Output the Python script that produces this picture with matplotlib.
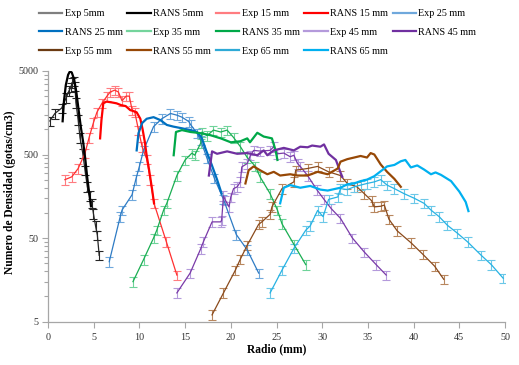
import matplotlib
matplotlib.use("Agg")
import matplotlib.pyplot as plt
from matplotlib.lines import Line2D
from matplotlib.ticker import FixedLocator, NullFormatter, FixedFormatter
import numpy as np

plt.rcParams['font.family'] = ['Liberation Serif', 'DejaVu Serif']

# ---------------- data ----------------
exp5_x = [0.2, 0.75, 1.5, 2.0, 2.3, 2.5, 2.65, 2.8, 2.95, 3.05, 3.3, 3.5, 3.8, 4.05, 4.3, 4.55, 4.8, 4.97, 5.2, 5.4, 5.6]
exp5_y = [1260, 1550, 1800, 2400, 2900, 3200, 3600, 3800, 3300, 2100, 1300, 800, 520, 324, 205, 160, 130, 98, 70, 54, 31]
rans5_x = [1.6, 1.75, 1.95, 2.2, 2.4, 2.6, 2.85, 3.1, 3.35, 3.6, 3.85, 4.1, 4.3, 4.5, 4.7]
rans5_y = [1250, 2200, 3400, 4500, 4950, 4800, 4000, 2800, 1700, 1050, 700, 420, 260, 175, 120]

exp15_x = [1.85, 2.6, 3.3, 4.05, 4.5, 4.97, 5.35, 5.9, 6.45, 6.8, 7.3, 7.7, 8.1, 8.55, 8.9, 9.2, 9.5, 9.9, 10.3, 10.8, 11.2, 11.6, 12.95, 14.1]
exp15_y = [250, 270, 340, 520, 800, 1200, 1600, 2050, 2500, 2800, 2950, 2800, 2200, 2500, 2500, 1700, 1600, 980, 620, 440, 250, 130, 45, 18]
rans15_x = [5.7, 5.85, 6.05, 6.4, 7.0, 7.5, 8.0, 8.5, 9.0, 9.4, 9.7, 10.1, 10.35, 10.6, 10.8, 11.0, 11.2, 11.4, 11.6]
rans15_y = [780, 1300, 2050, 2150, 2100, 2050, 1950, 1900, 1700, 1650, 1600, 1340, 1000, 700, 480, 360, 260, 187, 130]

exp25_x = [6.7, 7.9, 8.1, 9.2, 9.6, 10.0, 10.45, 11.55, 12.45, 13.4, 14.1, 14.65, 15.4, 15.6, 16.3, 16.7, 17.4, 18.2, 19.2, 20.6, 21.8, 23.05]
exp25_y = [26, 90, 108, 165, 250, 360, 560, 1080, 1340, 1550, 1480, 1400, 1240, 1140, 900, 740, 450, 260, 145, 55, 36, 19]
rans25_x = [9.7, 9.9, 10.3, 10.8, 11.55, 12.3, 13.0, 13.7, 14.65, 15.6, 16.3, 16.8, 17.3, 17.9, 18.5, 19.0]
rans25_y = [560, 900, 1190, 1340, 1400, 1290, 1130, 1080, 1030, 980, 930, 800, 560, 380, 250, 170]

exp35_x = [9.3, 10.45, 11.55, 11.9, 12.65, 13.0, 14.1, 15.0, 15.75, 16.05, 16.7, 16.85, 17.4, 18.1, 18.9, 19.6, 20.3, 21.05, 21.8, 22.7, 23.2, 24.3, 25.1, 25.6, 26.9, 28.2]
exp35_y = [15, 27.5, 50, 62, 108, 130, 280, 430, 520, 490, 680, 930, 840, 980, 930, 980, 800, 620, 460, 360, 270, 170, 108, 74, 42, 24]
rans35_x = [13.75, 14.0, 14.65, 15.6, 16.7, 17.8, 18.9, 20.0, 21.05, 21.8, 22.1, 22.9, 23.6, 24.5, 24.9, 25.1]
rans35_y = [490, 930, 980, 930, 900, 850, 780, 700, 720, 780, 700, 910, 820, 780, 560, 430]

exp45_x = [14.1, 15.55, 16.7, 17.0, 17.95, 18.9, 19.0, 19.2, 19.4, 19.8, 20.0, 20.3, 20.7, 21.05, 21.2, 21.8, 22.15, 22.5, 23.2, 24.3, 24.7, 25.1, 25.8, 26.5, 26.9, 27.3, 27.6, 28.4, 29.4, 30.2, 31.0, 32.0, 33.3, 34.6, 35.9, 37.0]
exp45_y = [11, 19, 37, 45, 78, 78, 82, 160, 142, 118, 155, 195, 205, 235, 355, 390, 490, 560, 550, 560, 620, 510, 520, 470, 490, 390, 360, 280, 190, 145, 112, 86, 50, 34, 24, 18]
rans45_x = [17.6, 17.95, 18.5, 19.6, 20.7, 21.8, 22.9, 23.6, 24.0, 24.7, 25.8, 26.9, 27.6, 28.4, 28.9, 29.8, 30.2, 30.7, 31.5, 32.0, 32.2]
rans45_y = [280, 545, 510, 545, 510, 520, 490, 560, 490, 560, 600, 560, 620, 610, 640, 620, 660, 510, 430, 305, 270]

exp55_x = [17.95, 19.2, 20.5, 21.05, 21.8, 23.05, 23.4, 24.3, 24.5, 25.6, 26.9, 27.1, 28.4, 29.5, 30.7, 32.0, 32.75, 33.8, 34.6, 35.4, 35.7, 36.4, 36.8, 37.3, 38.2, 39.7, 41.0, 42.3, 43.3]
exp55_y = [6.0, 11, 20.6, 28, 41, 73, 78, 96, 118, 195, 235, 324, 340, 360, 310, 280, 225, 205, 170, 140, 118, 120, 124, 84, 61, 44, 32, 23, 16]
rans55_x = [21.6, 21.95, 22.5, 23.2, 24.0, 24.7, 25.4, 26.5, 27.3, 28.4, 29.5, 30.6, 31.7, 32.0, 32.75, 33.5, 34.2, 34.9, 35.3, 35.7, 36.0, 36.4, 37.1, 37.9, 38.6]
rans55_y = [225, 324, 360, 324, 290, 310, 280, 290, 280, 280, 310, 290, 340, 410, 440, 460, 480, 460, 520, 500, 445, 380, 310, 255, 205]

exp65_x = [24.3, 25.6, 26.9, 28.2, 28.7, 29.5, 30.1, 30.7, 31.7, 32.0, 32.75, 33.5, 34.2, 34.9, 35.7, 36.4, 37.1, 37.9, 38.95, 40.05, 41.15, 41.9, 42.8, 43.7, 44.8, 45.9, 47.4, 48.5, 49.8]
exp65_y = [11, 20.6, 37.5, 62, 70, 107, 90, 145, 155, 195, 190, 205, 215, 225, 235, 250, 215, 195, 170, 150, 130, 108, 90, 71, 57, 45, 31, 24, 16.5]
rans65_x = [25.4, 25.8, 26.5, 27.6, 28.7, 29.8, 30.6, 32.0, 32.75, 33.5, 34.2, 34.9, 35.7, 36.4, 37.1, 37.9, 38.6, 39.1, 39.7, 40.4, 41.15, 41.9, 42.4, 43.0, 44.1, 45.0, 45.7, 46.0]
rans65_y = [130, 200, 215, 200, 210, 190, 185, 200, 220, 225, 240, 250, 275, 315, 360, 375, 415, 430, 350, 370, 330, 290, 305, 285, 240, 180, 135, 105]

exp_rel_err = 0.13  # approximate relative size of experimental error bars

labels = ["Exp 5mm", "RANS 5mm", "Exp 15 mm", "RANS 15 mm", "Exp 25 mm",
          "RANS 25 mm", "Exp 35 mm", "RANS 35 mm", "Exp 45 mm", "RANS 45 mm",
          "Exp 55 mm", "RANS 55 mm", "Exp 65 mm", "RANS 65 mm"]

x_ticks = [0, 5, 10, 15, 20, 25, 30, 35, 40, 45, 50]
y_ticks = [5, 50, 500, 5000]

# ---------------- styles ----------------
exp_series = [
    (exp5_x, exp5_y, '#262626', '#262626', '#7f7f7f'),
    (exp15_x, exp15_y, '#ff3030', '#ff7c80', '#ff7c80'),
    (exp25_x, exp25_y, '#2e7bc4', '#6fa8dc', '#6fa8dc'),
    (exp35_x, exp35_y, '#1aae52', '#6fd39a', '#74d49c'),
    (exp45_x, exp45_y, '#7a3aa8', '#b49adb', '#b49adb'),
    (exp55_x, exp55_y, '#8a4a1c', '#b8875e', '#6b3a12'),
    (exp65_x, exp65_y, '#27b2e3', '#6cc8e8', '#2eaad6'),
]
rans_series = [
    (rans5_x, rans5_y, '#000000'),
    (rans15_x, rans15_y, '#ff0000'),
    (rans25_x, rans25_y, '#0070c0'),
    (rans35_x, rans35_y, '#00a848'),
    (rans45_x, rans45_y, '#7030a0'),
    (rans55_x, rans55_y, '#974806'),
    (rans65_x, rans65_y, '#00b0f0'),
]

W, H = 519, 365
fig = plt.figure(figsize=(W / 100, H / 100), dpi=100)
ax = fig.add_axes([48 / W, 1 - 321.5 / H, (505 - 48) / W, (321.5 - 71) / H])

handles = []
for (ex, ey, lc, ec, legc), (rx, ry, rc) in zip(exp_series, rans_series):
    ey_arr = np.array(ey, dtype=float)
    ax.errorbar(ex, ey, yerr=ey_arr * exp_rel_err, color=lc, lw=0.9,
                ecolor=ec, elinewidth=0.8, capsize=2.6, capthick=0.8, zorder=2)
    ax.plot(rx, ry, color=rc, lw=1.6, solid_joinstyle='round', zorder=3)
    handles.append(Line2D([], [], color=legc, lw=1.6))
    handles.append(Line2D([], [], color=rc, lw=1.6))

ax.set_yscale('log')
ax.set_xlim(0, 50)
ax.set_ylim(5, 5000)
ax.yaxis.set_major_locator(FixedLocator(y_ticks))
ax.yaxis.set_major_formatter(FixedFormatter([str(v) for v in y_ticks]))
minor = [5 * k * 10 ** n for n in range(3) for k in range(2, 10)]
ax.yaxis.set_minor_locator(FixedLocator(minor))
ax.yaxis.set_minor_formatter(NullFormatter())
ax.set_xticks(x_ticks)
ax.set_xticklabels([str(v) for v in x_ticks])

for s in ['top', 'right']:
    ax.spines[s].set_visible(False)
for s in ['left', 'bottom']:
    ax.spines[s].set_color('#a6a6a6')
    ax.spines[s].set_linewidth(0.9)
ax.tick_params(axis='both', which='both', direction='out', color='#a6a6a6',
               labelsize=7.3, labelcolor='#333333')
ax.tick_params(axis='both', which='major', length=4, width=0.8)
ax.tick_params(axis='y', which='minor', length=3, width=0.8)
ax.tick_params(axis='x', pad=4)
ax.tick_params(axis='y', pad=3)

ax.set_xlabel('Radio (mm)', fontsize=8.3, fontweight='bold')
ax.set_ylabel('Numero de Densidad (gotas/cm3)', fontsize=8.3, fontweight='bold')
ax.xaxis.set_label_coords((276.5 - 48) / 457, -(349 - 321.5) / 250.5)
ax.yaxis.set_label_coords((10 - 48) / 457, (321.5 - 192) / 250.5)
ax.xaxis.label.set_va('center')
ax.yaxis.label.set_va('center')

# legend order (matplotlib fills columns)
order = [0, 5, 10, 1, 6, 11, 2, 7, 12, 3, 8, 13, 4, 9]
fig.legend([handles[i] for i in order], [labels[i] for i in order],
           ncol=5, loc='upper left', bbox_to_anchor=(35 / W, 1 - 5 / H),
           frameon=False, fontsize=7.3, handlelength=2.3, handletextpad=0.25,
           columnspacing=0.45, labelspacing=0.95, borderaxespad=0)

fig.savefig('out.png', dpi=100)
